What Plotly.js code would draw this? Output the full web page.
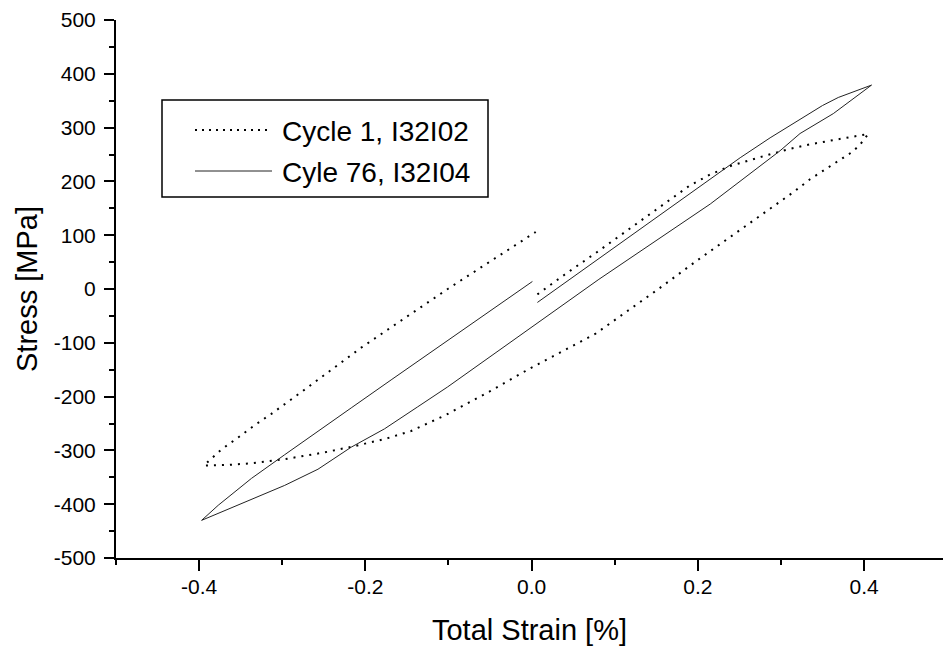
<!DOCTYPE html>
<html>
<head>
<meta charset="utf-8">
<script src="https://cdn.plot.ly/plotly-3.0.1.min.js"></script>
<style>html,body{margin:0;padding:0;background:#fff;}#chart{width:943px;height:654px;}</style>
</head>
<body>
<div id="chart"></div>
<script>
// Cycle 1 (dotted) – path order: loading, unloading, reloading
var cycle1Strain = [0.007, 0.04, 0.08, 0.12, 0.16, 0.19, 0.215, 0.24, 0.277, 0.307, 0.335, 0.365, 0.386, 0.405,
  0.395, 0.386, 0.375, 0.355, 0.335, 0.315, 0.295, 0.25, 0.2, 0.15, 0.1, 0.077, 0.043, 0.0, -0.05, -0.103, -0.145, -0.177, -0.213, -0.25, -0.3, -0.337, -0.365, -0.394,
  -0.39, -0.373, -0.353, -0.333, -0.313, -0.293, -0.273, -0.205, -0.1, 0.005];
var cycle1Stress = [-10, 27, 70, 114, 158, 192, 213, 229, 246, 259, 269, 278, 283, 288,
  268, 255, 244, 224, 204, 180, 158, 108, 54, -3, -58, -83, -111, -146, -190, -234, -264, -279, -292, -304, -317, -324, -327, -328,
  -322, -298, -276, -253, -232, -210, -187, -109, 1, 106];

// Cycle 76 (solid)
var cycle76Strain = [0.007, 0.081, 0.203, 0.251, 0.287, 0.32, 0.35, 0.369, 0.409,
  0.363, 0.323, 0.299, 0.263, 0.215, 0.081, -0.039, -0.101, -0.137, -0.177, -0.217, -0.257, -0.297, -0.337, -0.365, -0.397,
  -0.377, -0.337, -0.297, -0.257, -0.217, -0.169, -0.117, 0.001];
var cycle76Stress = [-25, 57, 192, 244, 281, 313, 341, 356, 379,
  326, 289, 257, 214, 158, 18, -115, -182, -219, -260, -294, -335, -365, -391, -410, -430,
  -402, -352, -308, -264, -221, -169, -113, 14];

var seriesNames = ["Cycle 1, I32I02", "Cyle 76, I32I04"];
var xTickVals = [-0.4, -0.2, 0.0, 0.2, 0.4];
var xTickText = ["-0.4", "-0.2", "0.0", "0.2", "0.4"];
var yTickVals = [-500, -400, -300, -200, -100, 0, 100, 200, 300, 400, 500];
var yTickText = ["-500", "-400", "-300", "-200", "-100", "0", "100", "200", "300", "400", "500"];

var FONT = "Liberation Sans, Arial, sans-serif";

var traces = [
  {x: cycle1Strain, y: cycle1Stress, mode: "lines", name: seriesNames[0],
   line: {color: "#000", width: 2, dash: "2px,6px"}, showlegend: false},
  {x: cycle76Strain, y: cycle76Stress, mode: "lines", name: seriesNames[1],
   line: {color: "#222", width: 1}, showlegend: false}
];

var layout = {
  width: 943, height: 654,
  paper_bgcolor: "#fff", plot_bgcolor: "#fff",
  margin: {l: 116, r: 0, t: 20, b: 96},
  font: {family: FONT, color: "#000"},
  showlegend: false,
  xaxis: {
    range: [-0.5, 0.495], showgrid: false, zeroline: false,
    showline: true, linecolor: "#000", linewidth: 2,
    ticks: "outside", ticklen: 11, tickwidth: 2, tickcolor: "#000",
    tickvals: xTickVals, ticktext: xTickText,
    tickfont: {size: 21, family: FONT},
    ticklabelstandoff: -2,
    minor: {dtick: 0.1, tick0: 0, ticks: "outside", ticklen: 5, tickwidth: 2, tickcolor: "#000"},
    title: {text: "Total Strain [%]", font: {size: 29, family: FONT}, standoff: 22}
  },
  yaxis: {
    range: [-500, 500], showgrid: false, zeroline: false,
    showline: true, linecolor: "#000", linewidth: 2,
    ticks: "outside", ticklen: 10, tickwidth: 2, tickcolor: "#000",
    tickvals: yTickVals, ticktext: yTickText,
    tickfont: {size: 21, family: FONT},
    ticklabelstandoff: 4,
    minor: {dtick: 50, tick0: 0, ticks: "outside", ticklen: 5, tickwidth: 2, tickcolor: "#000"},
    title: {text: "Stress [MPa]", font: {size: 29, family: FONT}, standoff: 8}
  },
  shapes: [
    {type: "rect", xref: "paper", yref: "paper",
     x0: (162 - 116) / 827, x1: (488 - 116) / 827, y0: (558 - 197) / 538, y1: (558 - 100) / 538,
     line: {color: "#000", width: 1.5}, fillcolor: "rgba(0,0,0,0)"},
    {type: "line", xref: "paper", yref: "paper",
     x0: (195 - 116) / 827, x1: (272 - 116) / 827, y0: (558 - 130) / 538, y1: (558 - 130) / 538,
     line: {color: "#000", width: 2, dash: "2px,5px"}},
    {type: "line", xref: "paper", yref: "paper",
     x0: (195 - 116) / 827, x1: (272 - 116) / 827, y0: (558 - 171) / 538, y1: (558 - 171) / 538,
     line: {color: "#222", width: 1}}
  ],
  annotations: [
    {xref: "paper", yref: "paper", x: (280 - 116) / 827, y: (558 - 131) / 538, xanchor: "left", yanchor: "middle",
     text: seriesNames[0], showarrow: false, font: {size: 28, family: FONT, color: "#000"}},
    {xref: "paper", yref: "paper", x: (280 - 116) / 827, y: (558 - 172) / 538, xanchor: "left", yanchor: "middle",
     text: seriesNames[1], showarrow: false, font: {size: 28, family: FONT, color: "#000"}}
  ]
};

Plotly.newPlot("chart", traces, layout, {displayModeBar: false, staticPlot: true});
</script>
</body>
</html>
